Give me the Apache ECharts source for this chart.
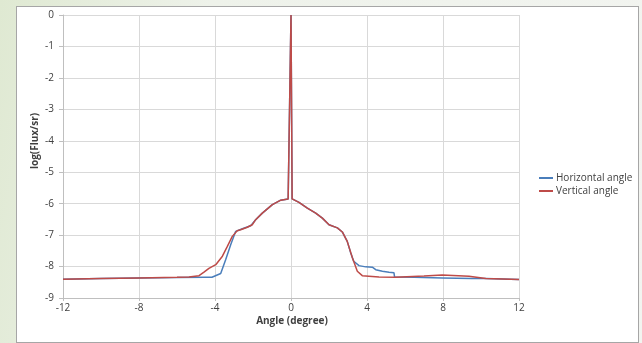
<!DOCTYPE html>
<html>
<head>
<meta charset="utf-8">
<script src="https://cdn.jsdelivr.net/npm/echarts@6/dist/echarts.min.js"></script>
<style>
  html, body { margin: 0; padding: 0; width: 642px; height: 343px; overflow: hidden; }
  body { background: linear-gradient(100deg, #dfe9d2 0%, #eef2ea 30%, #f2f4f0 100%); position: relative; }
  #panel { position: absolute; left: 16px; top: 6px; width: 621px; height: 335px; background: #fff; border: 1px solid #a6a6a6; }
  #chart { position: absolute; left: 0; top: 0; width: 642px; height: 343px; }
</style>
</head>
<body>
<div id="panel"></div>
<div id="chart"></div>
<script>
// horizontal angle profile (blue)
const hAngle = [-12, -10, -8, -6, -4.5, -4.16, -3.7, -3.44, -3.17, -2.91, -2.56, -2.12, -1.86, -1.51, -0.98, -0.54, -0.15, 0, 0.06, 0.42, 0.86, 1.3, 1.65, 2.0, 2.44, 2.7, 2.96, 3.14, 3.3, 3.58, 3.93, 4.28, 4.46, 4.81, 5.16, 5.42, 5.45, 6.5, 7.96, 9.5, 10.25, 12]
const hFlux = [-8.40, -8.38, -8.36, -8.35, -8.34, -8.34, -8.22, -7.78, -7.30, -6.88, -6.80, -6.70, -6.51, -6.30, -6.03, -5.89, -5.85, 0, -5.85, -5.96, -6.14, -6.30, -6.46, -6.67, -6.77, -6.90, -7.20, -7.56, -7.83, -7.97, -8.01, -8.02, -8.10, -8.15, -8.18, -8.20, -8.33, -8.34, -8.36, -8.38, -8.38, -8.41]

// vertical angle profile (red)
const vAngle = [-12, -10, -8, -6, -5.37, -4.84, -4.58, -4.32, -3.96, -3.61, -3.35, -3.09, -2.83, -2.65, -2.3, -2.04, -1.86, -1.51, -0.98, -0.54, -0.15, 0, 0.06, 0.42, 0.86, 1.3, 1.65, 2.0, 2.44, 2.7, 2.96, 3.23, 3.49, 3.75, 4.63, 5.5, 7, 7.96, 9.37, 10.25, 12]
const vFlux = [-8.40, -8.38, -8.36, -8.34, -8.33, -8.29, -8.18, -8.06, -7.94, -7.67, -7.36, -7.04, -6.86, -6.83, -6.75, -6.67, -6.51, -6.30, -6.03, -5.89, -5.85, 0, -5.85, -5.96, -6.14, -6.30, -6.46, -6.67, -6.77, -6.90, -7.20, -7.72, -8.15, -8.29, -8.33, -8.34, -8.30, -8.27, -8.31, -8.38, -8.41]

const seriesNames = ['Horizontal angle', 'Vertical angle']

function zip(xs, ys) {
  return xs.map((x, i) => [x, ys[i]])
}

const font = 'Open Sans'
const textColor = '#404040'

const chart = echarts.init(document.getElementById('chart'))
chart.setOption({
  backgroundColor: 'transparent',
  animation: false,
  textStyle: { fontFamily: font },
  grid: { left: 63, right: 123, top: 15, bottom: 45 },
  legend: {
    orient: 'vertical',
    left: 534,
    top: 168,
    itemWidth: 14,
    itemHeight: 2,
    itemGap: 3,
    icon: 'rect',
    textStyle: { fontFamily: font, fontSize: 10, color: textColor, padding: [0, 0, 0, -2] },
    data: seriesNames
  },
  xAxis: {
    type: 'value',
    min: -12,
    max: 12,
    interval: 4,
    axisLine: { show: true, onZero: false, lineStyle: { color: '#bfbfbf' } },
    axisTick: { show: true, length: 3, lineStyle: { color: '#bfbfbf' } },
    axisLabel: { color: textColor, fontSize: 10, margin: 5 },
    splitLine: { show: true, lineStyle: { color: '#d9d9d9' } }
  },
  yAxis: {
    type: 'value',
    min: -9,
    max: 0,
    interval: 1,
    axisLine: { show: true, onZero: false, lineStyle: { color: '#bfbfbf' } },
    axisTick: { show: true, length: 4, lineStyle: { color: '#bfbfbf' } },
    axisLabel: { color: textColor, fontSize: 10, margin: 9 },
    splitLine: { show: true, lineStyle: { color: '#d9d9d9' } }
  },
  graphic: [
    {
      type: 'text',
      x: 35,
      y: 141,
      rotation: Math.PI / 2,
      style: {
        text: 'log(Flux/sr)',
        font: 'bold 10px "Open Sans"',
        fill: textColor,
        align: 'center',
        verticalAlign: 'middle'
      }
    },
    {
      type: 'text',
      x: 292,
      y: 321,
      style: {
        text: 'Angle (degree)',
        font: 'bold 10px "Open Sans"',
        fill: textColor,
        align: 'center',
        verticalAlign: 'middle'
      }
    }
  ],
  series: [
    {
      name: seriesNames[0],
      type: 'line',
      data: zip(hAngle, hFlux),
      showSymbol: false,
      lineStyle: { color: '#4a7ebb', width: 1.5 },
      itemStyle: { color: '#4a7ebb' }
    },
    {
      name: seriesNames[1],
      type: 'line',
      data: zip(vAngle, vFlux),
      showSymbol: false,
      lineStyle: { color: '#be4b48', width: 1.5 },
      itemStyle: { color: '#be4b48' }
    }
  ]
})
</script>
</body>
</html>
